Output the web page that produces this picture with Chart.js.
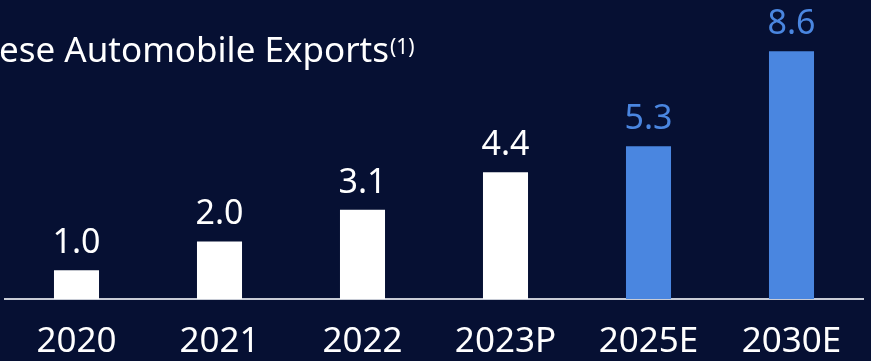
<!DOCTYPE html>
<html>
<head>
<meta charset="utf-8">
<script src="https://cdn.jsdelivr.net/npm/chart.js@4"></script>
<style>
  html, body { margin: 0; padding: 0; background: #061033; }
  #wrap { width: 871px; height: 361px; position: relative; }
</style>
</head>
<body>
<div id="wrap"><canvas id="chart"></canvas></div>
<script>
// values
const years = ['2020', '2021', '2022', '2023P', '2025E', '2030E'];
const exports = [1.0, 2.0, 3.1, 4.4, 5.3, 8.6];
const title = 'Chinese Automobile Exports';
const note = '(1)';

const WHITE = '#ffffff';
const BLUE = '#4a86e0';
const FONT = '"Noto Sans", "Open Sans", sans-serif';

// estimates (E) get the blue colour
const colorFor = (y) => y.endsWith('E') ? BLUE : WHITE;

const titlePlugin = {
	id: 'titleText',
	afterDraw(chart) {
		const ctx = chart.ctx;
		ctx.save();
		ctx.fillStyle = WHITE;
		ctx.textBaseline = 'alphabetic';
		ctx.font = '35px ' + FONT;
		ctx.textAlign = 'right';
		ctx.fillText(title, 389, 62);
		ctx.font = '21px ' + FONT;
		ctx.textAlign = 'left';
		ctx.fillText(note, 390, 54);
		ctx.restore();
	}
};

const valueLabels = {
	id: 'valueLabels',
	afterDatasetsDraw(chart) {
		const ctx = chart.ctx;
		const meta = chart.getDatasetMeta(0);
		ctx.save();
		ctx.font = '34px ' + FONT;
		ctx.textAlign = 'center';
		ctx.textBaseline = 'alphabetic';
		meta.data.forEach((bar, i) => {
			ctx.fillStyle = colorFor(years[i]);
			ctx.fillText(exports[i].toFixed(1), bar.x, bar.y - 17);
		});
		ctx.restore();
	}
};

const chart = new Chart(document.getElementById('chart'), {
	type: 'bar',
	data: {
		labels: years,
		datasets: [{
			data: exports,
			backgroundColor: years.map(colorFor),
			borderWidth: 0,
			categoryPercentage: 1,
			barPercentage: 0.315
		}]
	},
	options: {
		responsive: true,
		maintainAspectRatio: false,
		animation: false,
		layout: { padding: { left: 5, right: 8, top: 11, bottom: -24 } },
		plugins: {
			legend: { display: false },
			tooltip: { enabled: false }
		},
		scales: {
			x: {
				grid: { display: false, drawTicks: false },
				border: { display: true, color: '#c8ccd6', width: 2 },
				ticks: {
					color: WHITE,
					padding: 22,
					font: { family: FONT, size: 35 }
				}
			},
			y: {
				display: false,
				min: 0,
				max: 10
			}
		}
	},
	plugins: [titlePlugin, valueLabels]
});
</script>
</body>
</html>
